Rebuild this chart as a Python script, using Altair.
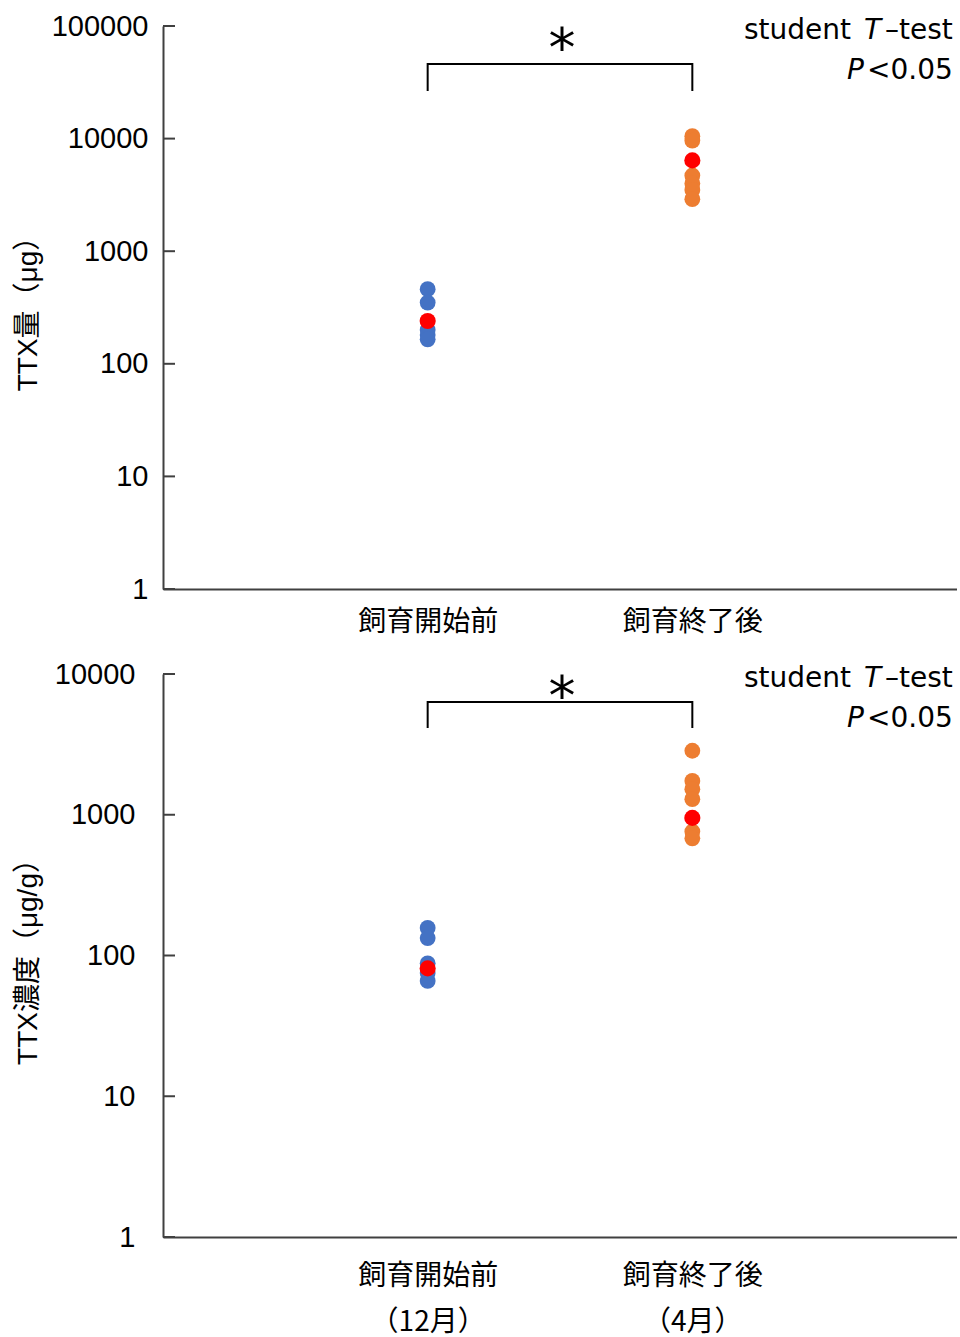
import altair as alt
import pandas as pd

cats = ["飼育開始前", "飼育終了後"]

# top panel: TTX amount (µg)
amount_before = [460, 350, 200, 180, 165]
amount_after = [10500, 9600, 4700, 4000, 3500, 2900]
amount_mean = [240, 6400]
amount_ticks = [1, 10, 100, 1000, 10000, 100000]
amount_bracket = [26500, 46000, 46000, 26500]

# bottom panel: TTX concentration (µg/g)
conc_before = [157, 133, 88, 75, 66]
conc_after = [2850, 1740, 1520, 1290, 760, 680]
conc_mean = [81, 950]
conc_ticks = [1, 10, 100, 1000, 10000]
conc_bracket = [4130, 6325, 6325, 4130]

BLUE = "#4472C4"
ORANGE = "#ED7D31"
RED = "#FF0000"
AXIS = "#404040"
LATIN = "Liberation Sans"
MIXED = "Liberation Sans, Noto Sans CJK JP"
ANNOT = "DejaVu Sans"


def panel(before, after, mean, ticks, dmax, bracket, title, W, H,
          lab_pad, x_lab_pad, label_expr=None):
    pts = pd.DataFrame(
        [{"cat": cats[0], "value": v, "grp": "before"} for v in before]
        + [{"cat": cats[1], "value": v, "grp": "after"} for v in after]
    )
    means = pd.DataFrame({"cat": cats, "value": mean, "grp": ["mean", "mean"]})
    tick_df = pd.DataFrame({"value": ticks})
    br = pd.DataFrame({"cat": [cats[0], cats[0], cats[1], cats[1]],
                       "value": bracket, "o": [0, 1, 2, 3]})

    xaxis_kw = dict(title=None, labelAngle=0, ticks=False, domainColor=AXIS,
                    domainWidth=2, labelFont="Noto Sans CJK JP", labelFontSize=28,
                    labelColor="black", labelPadding=x_lab_pad)
    if label_expr:
        xaxis_kw["labelExpr"] = label_expr
        xaxis_kw["labelLineHeight"] = 46
    X = alt.X("cat:N", scale=alt.Scale(type="point", domain=cats, padding=1),
              axis=alt.Axis(**xaxis_kw))
    yscale = alt.Scale(type="log", domain=[1, dmax])
    Y = alt.Y("value:Q", scale=yscale,
              axis=alt.Axis(values=ticks, format="d", ticks=False, grid=False,
                            domainColor=AXIS, domainWidth=2,
                            labelFont=LATIN, labelFontSize=29, labelColor="black",
                            labelPadding=lab_pad,
                            title=title, titleFont=MIXED, titleFontSize=28,
                            titleFontWeight="normal", titleColor="black",
                            titleAngle=270, titleX=-135, titleY=H / 2 - 1,
                            titleAlign="center", titleBaseline="middle"))
    color = alt.Color("grp:N", scale=alt.Scale(domain=["before", "after", "mean"],
                                               range=[BLUE, ORANGE, RED]), legend=None)

    dots = alt.Chart(pts).mark_circle(size=250, opacity=1).encode(x=X, y=Y, color=color)
    red = alt.Chart(means).mark_circle(size=260, opacity=1).encode(x=X, y=Y, color=color)
    tk = alt.Chart(tick_df).mark_rule(color=AXIS, strokeWidth=2).encode(
        y=alt.Y("value:Q", scale=yscale), x=alt.value(0), x2=alt.value(12))
    bline = alt.Chart(br).mark_line(color="black", strokeWidth=2).encode(
        x=X, y=Y, order="o:Q")
    star = alt.Chart(pd.DataFrame({"t": ["*"]})).mark_text(
        fontSize=54, font=ANNOT, color="black", baseline="middle", align="center"
    ).encode(x=alt.value(W / 2 + 2), y=alt.value(24), text="t:N")

    ann_rows = pd.DataFrame([
        {"t": "student", "x": W - 213, "y": 5, "it": "normal"},
        {"t": "T", "x": W - 93, "y": 5, "it": "italic"},
        {"t": "–test", "x": W - 72, "y": 5, "it": "normal"},
        {"t": "P", "x": W - 110, "y": 45, "it": "italic"},
        {"t": "<0.05", "x": W - 90, "y": 45, "it": "normal"},
    ])
    anns = []
    for _, r in ann_rows.iterrows():
        anns.append(alt.Chart(pd.DataFrame({"t": [r["t"]]})).mark_text(
            fontSize=28, font=ANNOT, fontStyle=r["it"], color="black",
            align="left", baseline="middle"
        ).encode(x=alt.value(float(r["x"])), y=alt.value(float(r["y"])), text="t:N"))

    return alt.layer(tk, bline, dots, red, star, *anns).properties(width=W, height=H)


top = panel(amount_before, amount_after, amount_mean, amount_ticks, 100000,
            amount_bracket, "TTX量（μg）", 794, 563, 15, 19)
bottom = panel(conc_before, conc_after, conc_mean, conc_ticks, 10000,
               conc_bracket, "TTX濃度（μg/g）", 794, 563, 28, 25,
               label_expr="datum.value == '飼育開始前' ? ['飼育開始前', '（12月）'] : ['飼育終了後', '（4月）']")

chart = alt.vconcat(top, bottom, spacing=85, bounds="flush").properties(
    padding={"left": 14, "top": 12, "right": 0, "bottom": 2}
).configure_view(stroke=None)

chart.save("out.html", embed_options={"renderer": "svg", "actions": False})
